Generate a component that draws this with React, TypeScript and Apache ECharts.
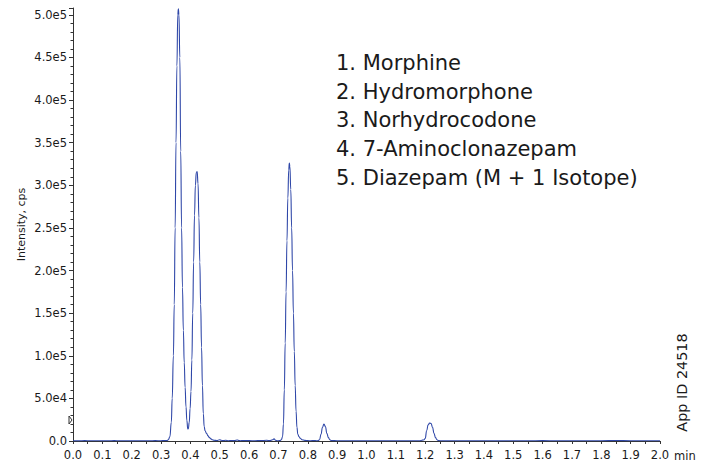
import { useEffect, useRef } from "react";
import * as echarts from "echarts";

// ---- Data (time in min, intensity in cps) ----
const baselineStart: [number, number][] = [
  [0, 300], [0.02, 200], [0.04, 400], [0.06, 250], [0.08, 350], [0.1, 200], [0.12, 300],
  [0.14, 450], [0.16, 250], [0.18, 300], [0.2, 200], [0.22, 350], [0.24, 250], [0.26, 300],
  [0.28, 400], [0.3, 300], [0.31, 500], [0.315, 600],
];
const peaks1and2: [number, number][] = [
  [0.32, 600], [0.325, 1500], [0.33, 5000], [0.335, 22000], [0.338, 50000], [0.342, 100000],
  [0.345, 160000], [0.348, 250000], [0.351, 350000], [0.354, 440000], [0.357, 500000],
  [0.359, 507000], [0.361, 500000], [0.364, 450000], [0.367, 340000], [0.37, 250000],
  [0.373, 180000], [0.376, 130000], [0.379, 92000], [0.382, 63000], [0.385, 40000],
  [0.388, 24000], [0.391, 14000], [0.393, 14500], [0.396, 22000], [0.399, 38000],
  [0.402, 58000], [0.405, 95000], [0.408, 150000], [0.411, 210000], [0.414, 265000],
  [0.417, 300000], [0.42, 315000], [0.423, 316000], [0.426, 302000], [0.429, 262000],
  [0.432, 210000], [0.435, 160000], [0.438, 110000], [0.441, 65000], [0.444, 32000],
  [0.447, 17000], [0.45, 12000], [0.455, 9000], [0.46, 6000], [0.465, 4000], [0.47, 2500],
  [0.475, 1500], [0.48, 900],
];
const gapNoise: [number, number][] = [
  [0.49, 500], [0.5, 1500], [0.505, 800], [0.51, 400], [0.52, 900], [0.53, 300], [0.54, 500],
  [0.55, 400], [0.56, 1200], [0.565, 600], [0.57, 300], [0.58, 500], [0.6, 400], [0.62, 300],
  [0.64, 500], [0.66, 800], [0.67, 400], [0.68, 1500], [0.685, 2500], [0.69, 800], [0.695, 300],
];
const peak3: [number, number][] = [
  [0.7, 300], [0.705, 500], [0.71, 1500], [0.714, 5000], [0.717, 20000], [0.72, 60000],
  [0.723, 115000], [0.726, 175000], [0.729, 235000], [0.732, 285000], [0.735, 318000],
  [0.737, 326000], [0.739, 322000], [0.742, 295000], [0.745, 250000], [0.748, 200000],
  [0.751, 150000], [0.754, 105000], [0.757, 65000], [0.76, 35000], [0.763, 16000],
  [0.766, 8000], [0.77, 5000], [0.775, 3000], [0.78, 1500], [0.79, 700],
];
const gapB: [number, number][] = [[0.8, 400], [0.81, 300], [0.82, 500], [0.83, 300]];
const peak4: [number, number][] = [
  [0.835, 400], [0.84, 1500], [0.845, 8000], [0.85, 16000], [0.855, 20000], [0.86, 17000],
  [0.865, 9000], [0.87, 4000], [0.875, 1500], [0.88, 600],
];
const gapC: [number, number][] = [
  [0.9, 300], [0.95, 250], [1.0, 350], [1.05, 250], [1.1, 300], [1.15, 250], [1.18, 300],
];
const peak5: [number, number][] = [
  [1.185, 400], [1.19, 1000], [1.195, 1200], [1.2, 3000], [1.205, 12000], [1.21, 19000],
  [1.215, 21000], [1.22, 20500], [1.225, 16000], [1.23, 9000], [1.235, 4000], [1.24, 1500],
  [1.245, 600], [1.25, 300],
];
const baselineEnd: [number, number][] = [
  [1.27, 200], [1.3, 350], [1.35, 250], [1.4, 300], [1.45, 200], [1.5, 350], [1.55, 250],
  [1.6, 400], [1.65, 300], [1.7, 250], [1.75, 350], [1.8, 300], [1.85, 500], [1.9, 300],
  [1.95, 250], [2.0, 300],
];

const compounds = [
  "1. Morphine",
  "2. Hydromorphone",
  "3. Norhydrocodone",
  "4. 7-Aminoclonazepam",
  "5. Diazepam (M + 1 Isotope)",
];
const yAxisTitle = "Intensity, cps";
const xUnit = "min";
const appId = "App ID 24518";

const X_MIN = 0;
const X_MAX = 2;
const X_STEP = 0.1;
const Y_MIN = 0;
const Y_MAX = 508000;
const Y_STEP = 50000;

const FONT = "DejaVu Sans";
const TEXT = "#1a1a1a";
const AXIS = "#333";

function yLabel(v: number): string {
  if (v === 0) return "0.0";
  if (Math.abs(v / Y_STEP - Math.round(v / Y_STEP)) > 1e-6) return "";
  const e = Math.floor(Math.log10(v) + 1e-9);
  return (v / Math.pow(10, e)).toFixed(1) + "e" + e;
}

export default function App() {
  const ref = useRef<HTMLDivElement>(null);
  useEffect(() => {
    const chart = echarts.init(ref.current!, null, { renderer: "svg" });
    const data = [
      ...baselineStart, ...peaks1and2, ...gapNoise, ...peak3, ...gapB,
      ...peak4, ...gapC, ...peak5, ...baselineEnd,
    ];
    chart.setOption({
      animation: false,
      grid: { left: 73, right: 54, top: 8, bottom: 22, containLabel: false },
      xAxis: {
        type: "value",
        min: X_MIN,
        max: X_MAX,
        interval: X_STEP,
        axisLine: { show: true, lineStyle: { color: AXIS, width: 1 } },
        axisTick: { show: true, length: 3, lineStyle: { color: AXIS } },
        minorTick: { show: true, splitNumber: 2, length: 3, lineStyle: { color: AXIS } },
        splitLine: { show: false },
        axisLabel: {
          margin: 8,
          fontFamily: FONT,
          fontSize: 11.5,
          color: TEXT,
          formatter: (v: number) => v.toFixed(1),
        },
      },
      yAxis: {
        type: "value",
        min: Y_MIN,
        max: Y_MAX,
        interval: Y_STEP,
        name: yAxisTitle,
        nameLocation: "middle",
        nameGap: 46,
        nameMoveOverlap: false,
        nameTextStyle: { fontFamily: FONT, fontSize: 11, color: TEXT },
        axisLine: { show: true, lineStyle: { color: AXIS, width: 1 } },
        axisTick: { show: true, length: 4, lineStyle: { color: AXIS } },
        minorTick: { show: true, splitNumber: 5, length: 2.5, lineStyle: { color: AXIS } },
        splitLine: { show: false },
        axisLabel: {
          margin: 6,
          fontFamily: FONT,
          fontSize: 11.5,
          color: TEXT,
          showMaxLabel: false,
          formatter: yLabel,
        },
      },
      series: [
        {
          type: "line",
          data,
          showSymbol: false,
          smooth: true,
          smoothMonotone: "x",
          lineStyle: { color: "#2f47a8", width: 1.1 },
          itemStyle: { color: "#2f47a8" },
        },
      ],
      graphic: [
        ...compounds.map((c, i) => ({
          type: "text",
          x: 336,
          y: 63 + i * 28.7,
          style: {
            text: c,
            fontFamily: FONT,
            fontSize: 21,
            fill: TEXT,
            align: "left",
            verticalAlign: "middle",
          },
        })),
        {
          type: "text",
          x: 674,
          y: 456,
          style: {
            text: xUnit,
            fontFamily: FONT,
            fontSize: 11.5,
            fill: TEXT,
            align: "left",
            verticalAlign: "middle",
          },
        },
        {
          type: "text",
          x: 682,
          y: 382.5,
          rotation: Math.PI / 2,
          style: {
            text: appId,
            fontFamily: FONT,
            fontSize: 14.4,
            fill: TEXT,
            align: "center",
            verticalAlign: "middle",
          },
        },
        {
          type: "polygon",
          shape: { points: [[69, 416], [72, 420], [69, 424]] },
          style: { fill: "none", stroke: AXIS, lineWidth: 1 },
        },
      ],
    });
    return () => chart.dispose();
  }, []);
  return (
    <div
      ref={ref}
      style={{ position: "absolute", left: 0, top: 0, width: 714, height: 463 }}
    />
  );
}
